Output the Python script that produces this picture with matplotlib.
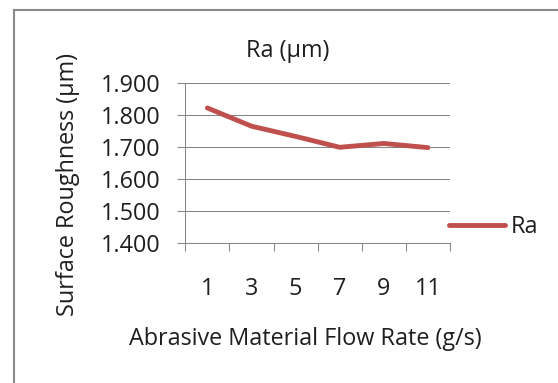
import matplotlib
matplotlib.use("Agg")
import matplotlib.pyplot as plt
from matplotlib.lines import Line2D

# data
flow_rates = ["1", "3", "5", "7", "9", "11"]
ra_values = [1.823, 1.766, 1.734, 1.700, 1.712, 1.699]
y_ticks = [1.400, 1.500, 1.600, 1.700, 1.800, 1.900]

plt.rcParams['font.family'] = ['Open Sans', 'DejaVu Sans']
FS = 16.8
TXT = '#1f1f1f'
GRID = '#868686'

fig = plt.figure(figsize=(5.58, 3.83), dpi=100)
ax = fig.add_axes([185.3/558, 1-243.3/383, (450-185.3)/558, (243.3-83.3)/383])

x = list(range(len(flow_rates)))
ax.plot(x, ra_values, color='#C0504D', lw=3.5, solid_capstyle='round',
        solid_joinstyle='round', label='Ra', zorder=3)

ax.set_xlim(-0.5, len(flow_rates) - 0.5)
ax.set_ylim(y_ticks[0], y_ticks[-1])

# category axis: tick marks between categories, labels at centres
ax.set_xticks([i - 0.5 for i in range(len(flow_rates) + 1)])
ax.set_xticklabels([])
ax.set_xticks(x, minor=True)
ax.set_xticklabels(flow_rates, minor=True)
ax.tick_params(axis='x', which='major', direction='out', length=6, width=0.75, color=GRID)
ax.tick_params(axis='x', which='minor', length=0, pad=24, labelsize=FS, labelcolor=TXT)

ax.set_yticks(y_ticks)
ax.set_yticklabels(["%.3f" % v for v in y_ticks])
ax.tick_params(axis='y', direction='out', length=5.5, width=0.75, color=GRID,
               pad=12, labelsize=FS, labelcolor=TXT)

ax.grid(axis='y', color=GRID, lw=0.75)
ax.set_axisbelow(True)
for s in ['top', 'right']:
    ax.spines[s].set_visible(False)
for s in ['left', 'bottom']:
    ax.spines[s].set_color(GRID)
    ax.spines[s].set_linewidth(0.75)

fig.text(288/558, 1-51/383, 'Ra (μm)', ha='center', va='center', fontsize=FS, color=TXT)
fig.text(67.6/558, 1-185/383, 'Surface Roughness (μm)', ha='center', va='center',
         rotation=90, fontsize=FS, color=TXT)
fig.text(305.6/558, 1-339/383, 'Abrasive Material Flow Rate (g/s)', ha='center',
         va='center', fontsize=FS, color=TXT)

ax.legend(loc='center left', bbox_to_anchor=(449/558, 1-227/383),
          bbox_transform=fig.transFigure, frameon=False, fontsize=FS,
          handlelength=2.4, handletextpad=0.25, borderpad=0, borderaxespad=0,
          labelcolor=TXT)

# chart area border (only left and top edges show)
fig.add_artist(Line2D([14.3/558, 14.3/558], [0, 1-10/383], transform=fig.transFigure,
                      color='#8a8a8a', lw=1.5))
fig.add_artist(Line2D([14.3/558, 1], [1-10/383, 1-10/383], transform=fig.transFigure,
                      color='#8a8a8a', lw=1.5))

fig.savefig('out.png', dpi=100)
